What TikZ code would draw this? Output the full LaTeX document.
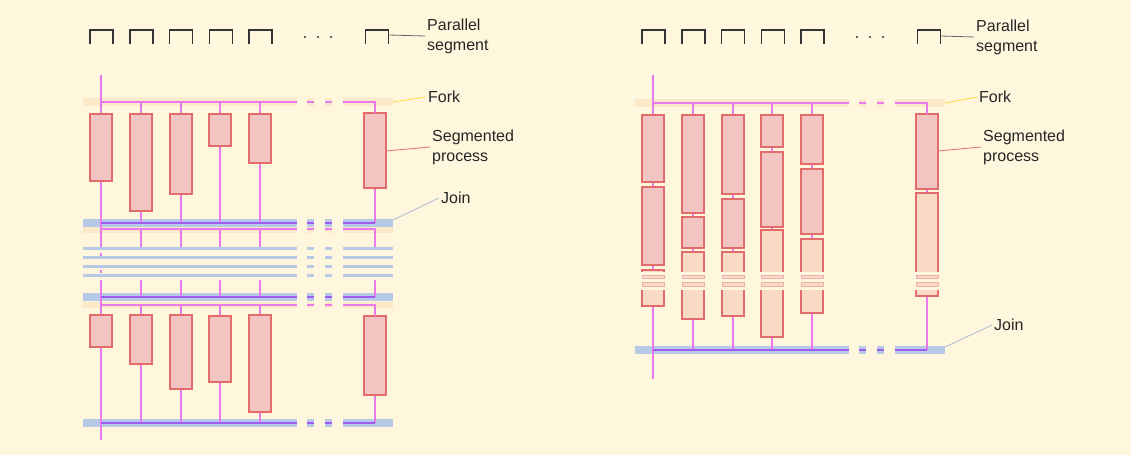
\documentclass[tikz,border=0pt]{standalone}
\usepackage{fontspec}
\setmainfont{Liberation Sans}
\definecolor{bgcream}{RGB}{254,247,221}
\definecolor{segfill}{RGB}{242,196,194}
\definecolor{segline}{RGB}{226,108,108}
\definecolor{peachfill}{RGB}{249,219,197}
\definecolor{linkpink}{RGB}{232,122,236}
\definecolor{joinpurple}{RGB}{160,92,240}
\definecolor{joinblue}{RGB}{182,202,232}
\definecolor{forkpeach}{RGB}{252,233,202}
\definecolor{glyphgray}{RGB}{52,52,52}
\tikzset{>=stealth}
\tikzset{
  segglyph/.style={draw=glyphgray, line width=1.7pt},
  redbox/.style={fill=segfill, draw=segline, line width=1.1pt},
  peachbox/.style={fill=peachfill, draw=segline, line width=1.1pt},
  stripebox/.style={fill=peachfill, draw=segline!55, line width=0.6pt},
  link/.style={draw=linkpink, line width=2pt},
  gapped/.style={dash pattern=on 214pt off 10pt on 7pt off 11pt on 7pt off 11pt on 300pt},
  gappedline/.style={dash pattern=on 196pt off 10pt on 7pt off 11pt on 7pt off 11pt on 300pt},
  forkband/.style={draw=forkpeach, line width=8pt, gapped},
  joinband/.style={draw=joinblue, line width=8pt, gapped},
  thinband/.style={draw=joinblue, line width=3pt, gapped},
  forkline/.style={draw=linkpink, line width=2pt, gappedline},
  joinline/.style={draw=joinpurple, line width=2pt, gappedline},
  tag/.style={anchor=west, align=left, inner sep=2pt, text=black!85,
    font=\fontsize{16}{20}\selectfont},
  leadgray/.style={draw=black!60, line width=0.8pt},
  leadyellow/.style={draw=yellow!70!orange!80, line width=0.8pt},
  leadred/.style={draw=segline, line width=0.8pt},
  leadblue/.style={draw=joinblue!80!gray, line width=0.8pt}
}
\newcommand{\redseg}[3]{\filldraw[redbox] ({#1-11},#2) rectangle ({#1+11},#3);}
\newcommand{\peachseg}[3]{%
  \filldraw[peachbox] ({#1-11},#2) rectangle ({#1+11},#3);
  \fill[bgcream] ({#1-12},272) rectangle ({#1+12},289.5);
  \filldraw[stripebox] ({#1-11},275) rectangle ({#1+11},278.5);
  \filldraw[stripebox] ({#1-11},282.5) rectangle ({#1+11},286);}
\newcommand{\segglyphs}{%
  \foreach \x in {101.5,141.5,181,221,260.5,377}
    \draw[segglyph] ({\x-11.5},44) -- ({\x-11.5},30) -- ({\x+11.5},30) -- ({\x+11.5},44);
  \foreach \x in {305,318,331}
    \fill[glyphgray] (\x,37) circle (1.1);}

\begin{document}
\begin{tikzpicture}[x=1pt, y=-1pt]
  \fill[bgcream] (0,0) rectangle (1131,455);

  % left: fork and join repeated
  \begin{scope}
    \segglyphs
    \draw[forkband] (83,102) -- (393,102);
    \draw[joinband] (83,222.5) -- (393,222.5);
    \draw[forkband, line width=6pt] (83,229.5) -- (393,229.5);
    \foreach \y in {248.3,257.7,266.3,275}
      \draw[thinband] (83,\y) -- (393,\y);
    \draw[joinband] (83,297) -- (393,297);
    \draw[forkband, line width=6pt] (83,305) -- (393,305);
    \draw[joinband] (83,423) -- (393,423);
    \foreach \x in {141,181,220,260,375} {
      \draw[link] (\x,102) -- (\x,223);
      \draw[link] (\x,229) -- (\x,247);
      \draw[link] (\x,280) -- (\x,297);
      \draw[link] (\x,305) -- (\x,423);
    }
    \draw[link] (101,75) -- (101,247);
    \draw[link] (101,252.5) -- (101,256) (101,269.5) -- (101,273);
    \draw[link] (101,280) -- (101,440);
    \redseg{101}{114}{181}
    \redseg{141}{114}{211}
    \redseg{181}{114}{194}
    \redseg{220}{114}{146}
    \redseg{260}{114}{163}
    \redseg{375}{113}{188}
    \redseg{101}{315}{347}
    \redseg{141}{315}{364}
    \redseg{181}{315}{389}
    \redseg{220}{316}{382}
    \redseg{260}{315}{412}
    \redseg{375}{316}{395}
    \draw[forkline] (101,102) -- (375,102) -- (375,113);
    \draw[joinline] (101,223) -- (375,223);
    \draw[forkline] (101,229) -- (375,229) -- (375,247);
    \draw[joinline] (101,297) -- (375,297);
    \draw[forkline] (101,305) -- (375,305) -- (375,316);
    \draw[joinline] (101,423) -- (375,423);

    \node[tag] (parL) at (425,36) {Parallel\\segment};
    \node[tag] (forkL) at (426,97) {Fork};
    \node[tag] (segL) at (430,147) {Segmented\\process};
    \node[tag] (joinL) at (439,198) {Join};
    \coordinate (parLend) at (388.5,35);
    \coordinate (forkLend) at (393,102);
    \coordinate (segLend) at (386,151);
    \coordinate (joinLend) at (393,220);
    \draw[leadgray] (parLend) -- (parL.west);
    \draw[leadyellow] (forkLend) -- (forkL.west);
    \draw[leadred] (segLend) -- (segL.west);
    \draw[leadblue] (joinLend) -- (joinL.west);
  \end{scope}

  % right: one fork, one join
  \begin{scope}[xshift=552pt]
    \segglyphs
    \draw[forkband] (83,103) -- (393,103);
    \draw[joinband] (83,350) -- (393,350);
    \foreach \x in {141,181,220,260,375}
      \draw[link] (\x,103) -- (\x,350);
    \draw[link] (101,75) -- (101,379);
    \redseg{101}{115}{182}
    \redseg{101}{187}{265}
    \peachseg{101}{270}{306}
    \redseg{141}{115}{213}
    \redseg{141}{217}{248}
    \peachseg{141}{252}{319}
    \redseg{181}{115}{194}
    \redseg{181}{199}{248}
    \peachseg{181}{252}{316}
    \redseg{220}{115}{147}
    \redseg{220}{152}{227}
    \peachseg{220}{230}{337}
    \redseg{260}{115}{164}
    \redseg{260}{169}{234}
    \peachseg{260}{239}{313}
    \redseg{375}{114}{189}
    \peachseg{375}{193}{296}
    \draw[forkline] (101,103) -- (375,103) -- (375,114);
    \draw[joinline] (101,350) -- (375,350);

    \node[tag] (parR) at (422,37) {Parallel\\segment};
    \node[tag] (forkR) at (425,97) {Fork};
    \node[tag] (segR) at (429,147) {Segmented\\process};
    \node[tag] (joinR) at (440,325) {Join};
    \coordinate (parRend) at (388.5,36);
    \coordinate (forkRend) at (393,103);
    \coordinate (segRend) at (386,151);
    \coordinate (joinRend) at (393,347);
    \draw[leadgray] (parRend) -- (parR.west);
    \draw[leadyellow] (forkRend) -- (forkR.west);
    \draw[leadred] (segRend) -- (segR.west);
    \draw[leadblue] (joinRend) -- (joinR.west);
  \end{scope}
\end{tikzpicture}
\end{document}
